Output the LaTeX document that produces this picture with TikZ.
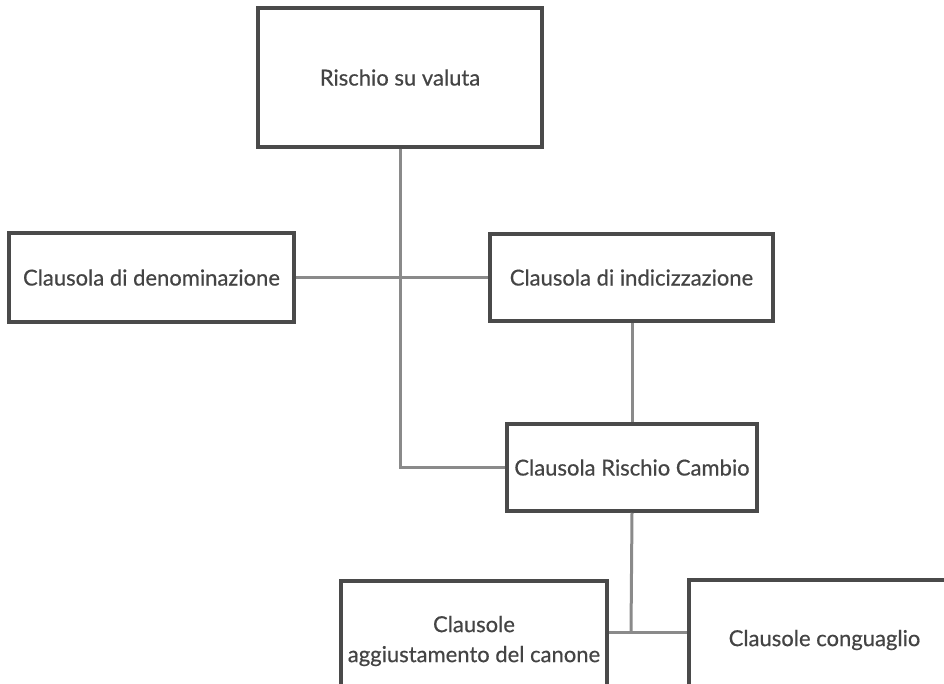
\documentclass[tikz,border=0pt]{standalone}
\usepackage{fontspec}
\setmainfont{Lato}
\newfontfamily\boxfont{Lato}[FakeBold=0.5]
\definecolor{boxline}{HTML}{4A4A4A}
\definecolor{conn}{HTML}{8A8A8A}
\definecolor{txt}{HTML}{444444}
\begin{document}
\begin{tikzpicture}[x=1pt,y=-1pt,
  box/.style={draw=boxline,line width=3.5pt,fill=white,rectangle,inner sep=0pt,
    text=txt,align=center,font=\boxfont\fontsize{22}{30}\selectfont},
  link/.style={draw=conn,line width=3pt}]
\useasboundingbox (0,0) rectangle (944,684);
\begin{scope}
\clip (0,0) rectangle (944,684);
\coordinate (e1) at (400,467);
\coordinate (j) at (631,632);
\node[box,minimum width=284pt,minimum height=139pt] (b1) at (400,77.5) {Rischio su valuta};
\node[box,minimum width=285pt,minimum height=89pt] (b2) at (151.5,277.5) {Clausola di denominazione};
\node[box,minimum width=283pt,minimum height=87pt] (b3) at (631.5,277.5) {Clausola di indicizzazione};
\node[box,minimum width=250pt,minimum height=87pt] (b4) at (632,467.5) {Clausola Rischio Cambio};
\node[box,minimum width=266pt,minimum height=120pt] (b5) at (474,641) {Clausole\\aggiustamento del canone};
\node[box,minimum width=271pt,minimum height=120pt] (b6) at (824.5,640) {\raisebox{4pt}{Clausole conguaglio}};
\end{scope}
\begin{scope}
\clip (0,0) rectangle (944,684);
\draw[link] (b1.south) -- (e1) -- (b4.west |- e1);
\draw[link] (b2.east) -- (b3.west);
\draw[link] (b3.south -| b4.north) -- (b4.north);
\draw[link] (b4.south) -- (j);
\draw[link] (b5.east |- j) -- (b6.west |- j);
\end{scope}
\end{tikzpicture}
\end{document}
